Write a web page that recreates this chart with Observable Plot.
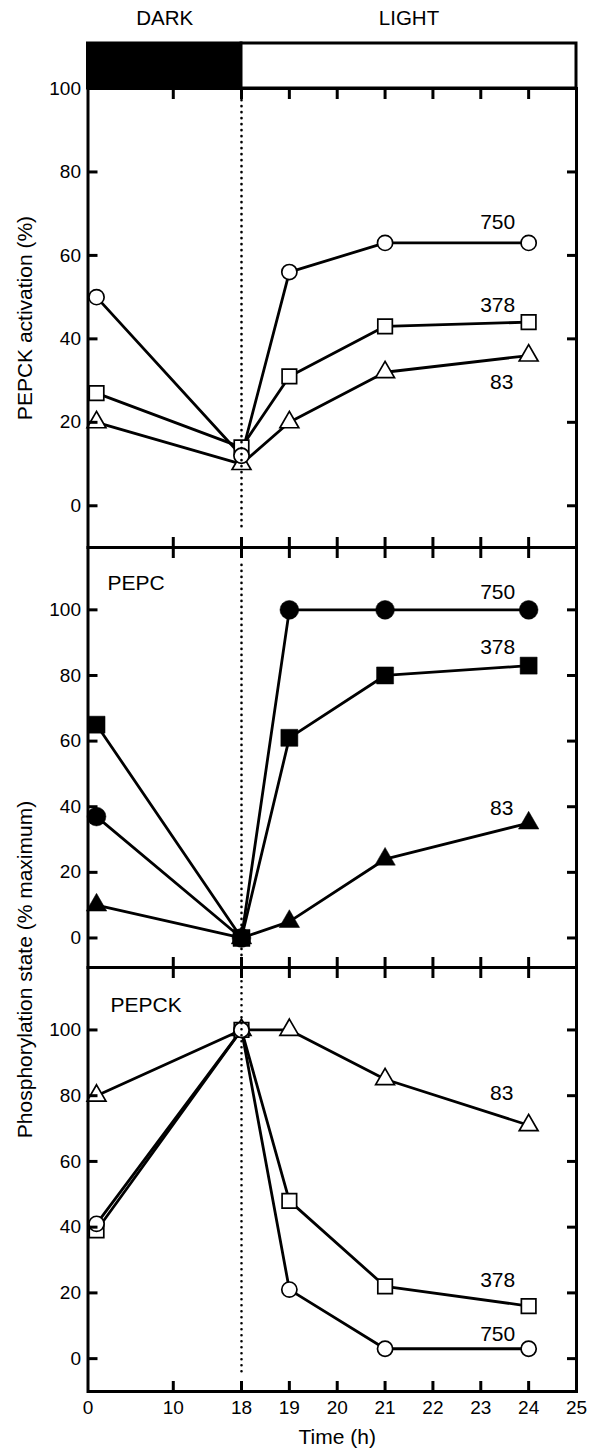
<!DOCTYPE html>
<html><head><meta charset="utf-8">
<script src="https://cdn.jsdelivr.net/npm/d3@7"></script>
<script src="https://cdn.jsdelivr.net/npm/@observablehq/plot@0.6"></script>
<style>
body{margin:0;background:#fff;}
#wrap{position:relative;width:595px;height:1451px;}
#wrap svg{position:absolute;left:0;}
</style></head><body><div id="wrap"></div>
<script>
// ---- data ----
const hours = [1, 18, 19, 21, 24];
const seriesNames = ["750", "378", "83"];
const activation750 = [50, 12, 56, 63, 63];
const activation378 = [27, 14, 31, 43, 44];
const activation83 = [20, 10, 20, 32, 36];
const pepc750 = [37, 0, 100, 100, 100];
const pepc378 = [65, 0, 61, 80, 83];
const pepc83 = [10, 0, 5, 24, 35];
const pepck750 = [41, 100, 21, 3, 3];
const pepck378 = [39, 100, 48, 22, 16];
const pepck83 = [80, 100, 100, 85, 71];
const xTickLabels = [0, 10, 18, 19, 20, 21, 22, 23, 24, 25];
const xInnerTicks = [10, 18, 19, 20, 21, 22, 23, 24];
const yTicks = [0, 20, 40, 60, 80, 100];
const phaseNames = ["DARK", "LIGHT"];
const phaseStart = [0, 18];
const phaseEnd = [18, 25];
const yLabel1 = "PEPCK activation (%)";
const yLabel2 = "Phosphorylation state (% maximum)";
const xLabel = "Time (h)";

// ---- layout ----
const FONT = "'Liberation Sans', Arial, Helvetica, sans-serif";
const STYLE = `background: transparent; overflow: visible; font-family: ${FONT}; font-size: 19px; color: black;`;
const xScale = {type: "linear", domain: [0, 18, 25], range: [87.5, 241, 576]};
const wrap = document.getElementById("wrap");

const rows = (vals, s) => hours.map((t, i) => ({t, v: vals[i], s}));
const symbolOf = {"750": "circle", "378": "square", "83": "triangle"};

function seriesMarks(sets, filled, labelOffsets) {
  const marks = [];
  const all = sets.flat();
  marks.push(Plot.line(all, {x: "t", y: "v", z: "s", stroke: "black", strokeWidth: 2.8, strokeLinejoin: "round"}));
  const rOpen = {circle: 7.6, square: 8.2, triangle: 7.0};
  const rFill = {circle: 9.4, square: 9.6, triangle: 7.6};
  for (const name of ["83", "378", "750"]) {
    const d = all.filter(r => r.s === name);
    const sym = symbolOf[name];
    marks.push(Plot.dot(d, {x: "t", y: "v", symbol: sym,
      r: filled ? rFill[sym] : rOpen[sym],
      fill: filled ? "black" : "white", stroke: "black", strokeWidth: filled ? 0.5 : 1.7}));
  }
  for (const name of seriesNames) {
    const d = all.filter(r => r.s === name);
    const last = d[d.length - 1];
    const [dx, dy] = labelOffsets[name];
    marks.push(Plot.text([last], {x: "t", y: "v", text: () => name, dx, dy, fontSize: 21}));
  }
  return marks;
}

function frameMarks(withXLabels) {
  const m = [
    Plot.frame({stroke: "black", strokeWidth: 3}),
    Plot.axisY({anchor: "left", ticks: yTicks, tickSize: -10, strokeWidth: 3, tickFormat: () => "", label: null}),
    Plot.axisY({anchor: "right", ticks: yTicks, tickSize: -10, strokeWidth: 3, tickFormat: () => "", label: null}),
    Plot.axisX({anchor: "top", ticks: xInnerTicks, tickSize: -10, strokeWidth: 3, tickFormat: () => "", label: null}),
    Plot.axisX({anchor: "bottom", ticks: xInnerTicks, tickSize: -10, strokeWidth: 3, tickFormat: () => "", label: null}),
    Plot.axisY({anchor: "left", ticks: yTicks, tickSize: 0, tickPadding: 7, label: null, fontSize: 19})
  ];
  if (withXLabels) {
    m.push(Plot.axisX({anchor: "bottom", ticks: xTickLabels, tickSize: 0, tickPadding: 9, label: null, fontSize: 19}));
  }
  return m;
}

const dotted = {stroke: "black", strokeWidth: 2.6, strokeDasharray: "0.1,5.9", strokeLinecap: "round"};

function place(svg, top) {
  svg.style.top = top + "px";
  wrap.appendChild(svg);
}

// ---- DARK / LIGHT bar ----
const phases = phaseNames.map((name, i) => ({name, start: phaseStart[i], end: phaseEnd[i]}));
place(Plot.plot({
  width: 595, height: 92, marginTop: 43, marginBottom: 4, marginLeft: 87.5, marginRight: 19,
  x: {...xScale, axis: null}, style: STYLE,
  marks: [
    Plot.rect(phases, {x1: "start", x2: "end", fill: d => d.name === "DARK" ? "black" : "white", stroke: "black", strokeWidth: 3}),
    Plot.text(phases, {x: d => (d.start + d.end) / 2, text: "name", frameAnchor: "top", lineAnchor: "middle", dy: -25, fontSize: 20.5})
  ]
}), 0);

// ---- Panel 1: PEPCK activation ----
place(Plot.plot({
  width: 595, height: 20 + 459 + 20, marginTop: 20, marginBottom: 20, marginLeft: 87.5, marginRight: 19,
  x: xScale, y: {domain: [-10, 100]}, style: STYLE,
  marks: [
    ...seriesMarks([rows(activation750, "750"), rows(activation378, "378"), rows(activation83, "83")], false,
      {"750": [-31, -21], "378": [-31, -17], "83": [-27, 27]}),
    Plot.ruleX([18], {y1: -5, y2: 100, ...dotted}),
    ...frameMarks(false),
    Plot.text([yLabel1], {frameAnchor: "left", textAnchor: "middle", lineAnchor: "middle", dx: -62.5, rotate: -90, fontSize: 21})
  ]
}), 68);

// ---- Panel 2: PEPC phosphorylation ----
place(Plot.plot({
  width: 595, height: 20 + 420 + 20, marginTop: 20, marginBottom: 20, marginLeft: 87.5, marginRight: 19,
  x: xScale, y: {domain: [-9, 119]}, style: STYLE,
  marks: [
    ...seriesMarks([rows(pepc750, "750"), rows(pepc378, "378"), rows(pepc83, "83")], true,
      {"750": [-31, -18], "378": [-31, -18.5], "83": [-27, -15]}),
    Plot.ruleX([18], {y1: -9, y2: 114, ...dotted}),
    ...frameMarks(false),
    Plot.text(["PEPC"], {frameAnchor: "top-left", dx: 19.5, dy: 36, textAnchor: "start", lineAnchor: "middle", fontSize: 21}),
    Plot.text([yLabel2], {frameAnchor: "bottom-left", textAnchor: "middle", lineAnchor: "middle", dx: -62.5, dy: 2, rotate: -90, fontSize: 21})
  ]
}), 527);

// ---- Panel 3: PEPCK phosphorylation ----
place(Plot.plot({
  width: 595, height: 20 + 424 + 60, marginTop: 20, marginBottom: 60, marginLeft: 87.5, marginRight: 19,
  x: xScale, y: {domain: [-10, 119]}, style: STYLE,
  marks: [
    ...seriesMarks([rows(pepck750, "750"), rows(pepck378, "378"), rows(pepck83, "83")], false,
      {"750": [-31, -15], "378": [-31, -25.5], "83": [-27, -32]}),
    Plot.ruleX([18], {y1: -4, y2: 119, ...dotted}),
    ...frameMarks(true),
    Plot.text(["PEPCK"], {frameAnchor: "top-left", dx: 22.5, dy: 38, textAnchor: "start", lineAnchor: "middle", fontSize: 21}),
    Plot.text([xLabel], {frameAnchor: "bottom", lineAnchor: "middle", dx: 5, dy: 46, fontSize: 21})
  ]
}), 947);
</script></body></html>
